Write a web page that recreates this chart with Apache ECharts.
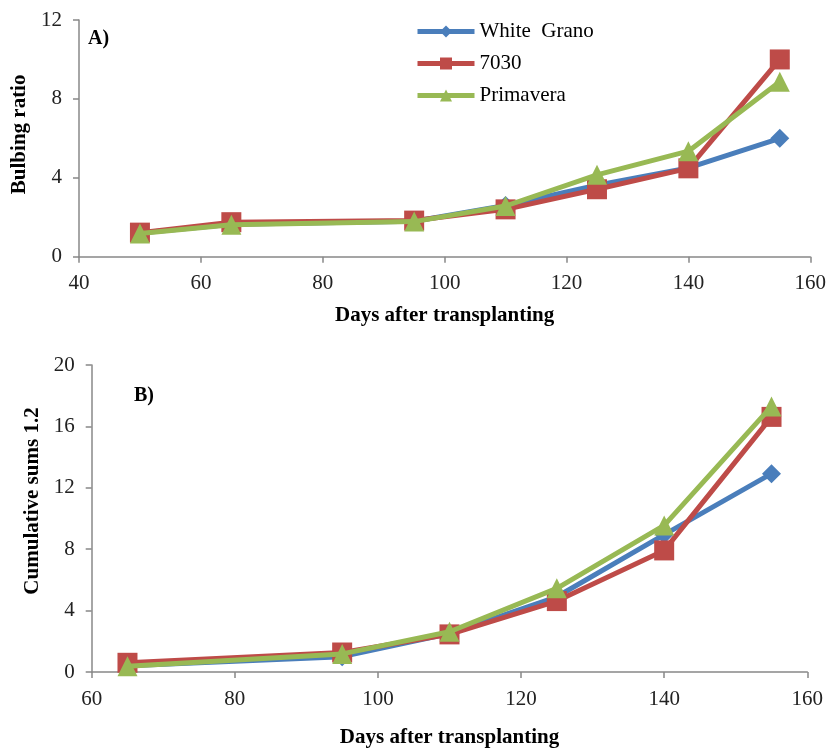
<!DOCTYPE html>
<html>
<head>
<meta charset="utf-8">
<script src="https://cdn.jsdelivr.net/npm/echarts@6/dist/echarts.min.js"></script>
<style>html,body{margin:0;padding:0;background:#fff}#c{width:829px;height:749px}</style>
</head>
<body>
<div id="c"></div>
<script>
// Panel A: bulbing ratio
const daysA = [50, 65, 95, 110, 125, 140, 155];
const whiteGranoA = [1.2, 1.65, 1.8, 2.6, 3.62, 4.5, 6.0];
const s7030A = [1.22, 1.75, 1.83, 2.4, 3.42, 4.48, 10.0];
const primaveraA = [1.18, 1.62, 1.78, 2.57, 4.15, 5.35, 8.87];
// Panel B: cumulative sums 1.2
const daysB = [65, 95, 110, 125, 140, 155];
const whiteGranoB = [0.4, 1.0, 2.5, 4.9, 8.95, 12.92];
const s7030B = [0.6, 1.27, 2.45, 4.62, 7.92, 16.62];
const primaveraB = [0.38, 1.18, 2.62, 5.45, 9.55, 17.3];

const names = ['White  Grano', '7030', 'Primavera'];
const colors = ['#4A7EBB', '#BE4B48', '#98B954'];
const symbols = ['diamond', 'rect', 'triangle'];
const sizes = [19, 20, 20];

const pair = (xs, ys) => xs.map((x, i) => [x, ys[i]]);
const FONT = '"Liberation Serif", "Times New Roman", serif';
const axisLine = {show: true, lineStyle: {color: '#888888', width: 1.5}};
const axisTick = {show: true, inside: false, length: 6, lineStyle: {color: '#888888', width: 1.5}};
const labelStyle = {fontFamily: FONT, fontSize: 21, color: '#222'};
const nameStyle = {fontFamily: FONT, fontSize: 21, fontWeight: 'bold', color: '#000'};

function mkSeries(idx, xs, ys, g) {
  return {
    type: 'line', name: names[idx], xAxisIndex: g, yAxisIndex: g,
    data: pair(xs, ys), symbol: symbols[idx], symbolSize: sizes[idx],
    lineStyle: {color: colors[idx], width: 5}, itemStyle: {color: colors[idx]},
    z: 2 + idx, animation: false
  };
}

const chart = echarts.init(document.getElementById('c'), null, {renderer: 'canvas'});
chart.setOption({
  backgroundColor: '#fff',
  animation: false,
  grid: [
    {left: 79, right: 16.7, top: 20, height: 236.7},
    {left: 91.7, right: 21.7, top: 365, height: 310.7}
  ],
  legend: {
    data: names, orient: 'vertical', left: 410, top: 16, itemGap: 11,
    itemWidth: 57, itemHeight: 15,
    lineStyle: {width: 5},
    textStyle: {fontFamily: FONT, fontSize: 21, color: '#000', lineHeight: 21}
  },
  xAxis: [
    {type: 'value', gridIndex: 0, min: 40, max: 160, interval: 20,
     name: 'Days after transplanting', nameLocation: 'middle', nameGap: 48, nameTextStyle: nameStyle,
     axisLine, axisTick, splitLine: {show: false}, axisLabel: Object.assign({margin: 16}, labelStyle)},
    {type: 'value', gridIndex: 1, min: 60, max: 160, interval: 20,
     name: 'Days after transplanting', nameLocation: 'middle', nameGap: 55, nameTextStyle: nameStyle,
     axisLine, axisTick, splitLine: {show: false}, axisLabel: Object.assign({margin: 17}, labelStyle)}
  ],
  yAxis: [
    {type: 'value', gridIndex: 0, min: 0, max: 12, interval: 4,
     name: 'Bulbing ratio', nameLocation: 'middle', nameGap: 44,
     nameTextStyle: Object.assign({padding: [0, 0, 0, 8]}, nameStyle),
     axisLine, axisTick, splitLine: {show: false}, axisLabel: Object.assign({margin: 17}, labelStyle)},
    {type: 'value', gridIndex: 1, min: 0, max: 20, interval: 4,
     name: 'Cumulative sums 1.2', nameLocation: 'middle', nameGap: 42,
     nameTextStyle: Object.assign({padding: [0, 0, 0, 35]}, nameStyle),
     axisLine, axisTick, splitLine: {show: false}, axisLabel: Object.assign({margin: 17}, labelStyle)}
  ],
  graphic: [
    {type: 'text', left: 88, top: 29, style: {text: 'A)', font: 'bold 20px ' + FONT, fill: '#000'}},
    {type: 'text', left: 134, top: 386, style: {text: 'B)', font: 'bold 20px ' + FONT, fill: '#000'}}
  ],
  series: [
    mkSeries(0, daysA, whiteGranoA, 0),
    mkSeries(1, daysA, s7030A, 0),
    mkSeries(2, daysA, primaveraA, 0),
    mkSeries(0, daysB, whiteGranoB, 1),
    mkSeries(1, daysB, s7030B, 1),
    mkSeries(2, daysB, primaveraB, 1)
  ]
});
</script>
</body>
</html>
